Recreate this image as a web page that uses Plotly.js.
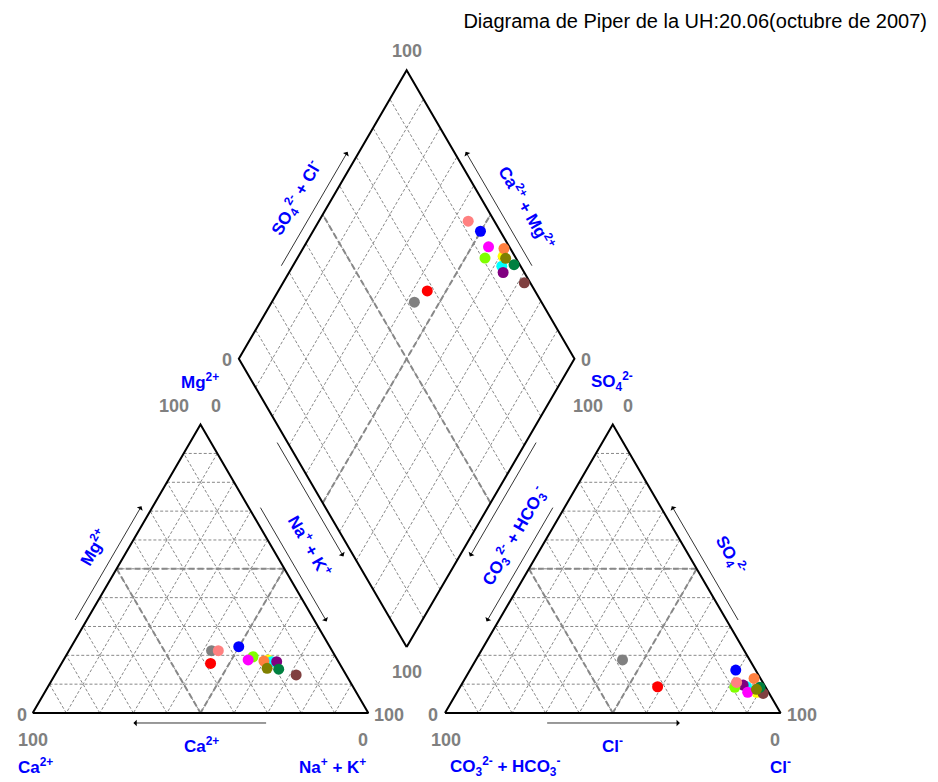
<!DOCTYPE html>
<html><head><meta charset="utf-8">
<script src="https://cdn.plot.ly/plotly-3.0.1.min.js"></script>
<style>html,body{margin:0;padding:0;background:#fff}#chart{width:938px;height:782px}</style>
</head><body><div id="chart"></div>
<script>
// ---------------- data (percent of meq) ----------------
const sampleColors = ['#FF0000','#808080','#FFFF00','#00FFFF','#800080','#80FF00','#FF00FF','#FF8040','#804040','#008040','#808000','#0000FF','#FF8080'];
const caPct   = [38.4,35.9,20.6,19.9,18.4,24.6,26.6,22.1,14.9,19.1,22.4,27.1,33.9];
const mgPct   = [17.2,21.6,18.4,17.8,17.8,19.5,18.4,18.0,13.2,15.2,15.5,23.0,21.6];
const naKPct  = [44.4,42.5,61.0,62.3,63.8,55.9,55.0,59.9,71.9,65.7,62.1,49.9,44.5];
const hco3Pct = [32.1,37.9,3.5,5.6,6.3,9.2,6.2,1.9,1.8,1.7,3.1,5.9,7.8];
const so4Pct  = [9.1,18.4,7.2,9.1,9.7,8.9,7.2,12.0,6.8,8.9,8.2,14.9,10.6];
const clPct   = [58.8,43.7,89.3,85.3,84.0,81.9,86.6,86.1,91.4,89.4,88.7,79.2,81.6];
const gridSteps = [10,20,30,40,50,60,70,80,90];
const titleText = 'Diagrama de Piper de la UH:20.06(octubre de 2007)';

// ---------------- geometry ----------------
const S3 = Math.sqrt(3)/2;
const G = 0.2285;
const LA=[0,0], LB=[1,0], LC=[0.5,S3];
const RA=[1+G,0], RB=[2+G,0], RC=[1.5+G,S3];
const DB=[1+G/2,G*S3], DL=[0.5+G/2,(1+G)*S3], DR=[1.5+G/2,(1+G)*S3], DT=[1+G/2,(2+G)*S3];
const lerp=(P,Q,f)=>[P[0]+(Q[0]-P[0])*f, P[1]+(Q[1]-P[1])*f];

function seg(arrs, P, Q){ arrs.x.push(P[0],Q[0],null); arrs.y.push(P[1],Q[1],null); }

const grid={x:[],y:[]}, thick={x:[],y:[]}, outline={x:[],y:[]};
function triGrid(A,B,C){
  gridSteps.forEach(p=>{ const f=p/100;
    seg(grid, lerp(A,C,f), lerp(B,C,f));
    seg(grid, lerp(B,A,f), lerp(C,A,f));
    seg(grid, lerp(C,B,f), lerp(A,B,f));
  });
  const mAB=lerp(A,B,.5), mBC=lerp(B,C,.5), mCA=lerp(C,A,.5);
  seg(thick,mCA,mBC); seg(thick,mCA,mAB); seg(thick,mBC,mAB);
  outline.x.push(A[0],B[0],C[0],A[0],null); outline.y.push(A[1],B[1],C[1],A[1],null);
}
triGrid(LA,LB,LC); triGrid(RA,RB,RC);
gridSteps.forEach(p=>{ const f=p/100;
  seg(grid, lerp(DB,DL,f), lerp(DR,DT,f));
  seg(grid, lerp(DB,DR,f), lerp(DL,DT,f));
});
seg(thick, lerp(DB,DL,.5), lerp(DR,DT,.5));
seg(thick, lerp(DB,DR,.5), lerp(DL,DT,.5));
outline.x.push(DB[0],DL[0],DT[0],DR[0],DB[0],null); outline.y.push(DB[1],DL[1],DT[1],DR[1],DB[1],null);

// ---------------- point positions ----------------
const cx=[],cy=[],ax=[],ay=[],dx=[],dy=[];
for(let i=0;i<sampleColors.length;i++){
  const ts=caPct[i]+mgPct[i]+naKPct[i];
  const m=mgPct[i]/ts, n=naKPct[i]/ts;
  const ta=hco3Pct[i]+so4Pct[i]+clPct[i];
  const s=so4Pct[i]/ta, c=clPct[i]/ta;
  cx.push(n+m/2); cy.push(m*S3);
  ax.push(1+G+c+s/2); ay.push(s*S3);
  dx.push((n+1+G+c+s)/2); dy.push(S3*(1+G+c+s-n));
}

const MS=11;
const traces=[
  {x:grid.x,y:grid.y,mode:'lines',line:{color:'#888',width:1,dash:'3px,2px'},hoverinfo:'skip'},
  {x:thick.x,y:thick.y,mode:'lines',line:{color:'#888',width:2,dash:'6px,3px'},hoverinfo:'skip'},
  {x:outline.x,y:outline.y,mode:'lines',line:{color:'#000',width:2},hoverinfo:'skip'},
  {x:cx,y:cy,mode:'markers',marker:{color:sampleColors,size:MS,line:{width:0}}},
  {x:ax,y:ay,mode:'markers',marker:{color:sampleColors,size:MS,line:{width:0}}},
  {x:dx,y:dy,mode:'markers',marker:{color:sampleColors,size:MS,line:{width:0}}}
];

// ---------------- arrows ----------------
function arrow(P0,P1,t0,t1,d,nrm){
  const s=lerp(P0,P1,t0), e=lerp(P0,P1,t1);
  return {x:e[0]+nrm[0]*d, y:e[1]+nrm[1]*d, ax:s[0]+nrm[0]*d, ay:s[1]+nrm[1]*d,
    xref:'x',yref:'y',axref:'x',ayref:'y',text:'',showarrow:true,
    arrowhead:1,arrowsize:1.4,arrowwidth:0.8,arrowcolor:'#000',standoff:0,startstandoff:0};
}
const NL=[-S3,0.5], NR=[S3,0.5], ND=[0,-1], NLL=[-S3,-0.5], NLR=[S3,-0.5];
const anns=[
  arrow(LA,LC,.3,.7,.03,NL), arrow(LC,LB,.3,.7,.03,NR), arrow(LB,LA,.3,.7,.03,ND),
  arrow(RC,RA,.3,.7,.03,NL), arrow(RB,RC,.3,.7,.03,NR), arrow(RA,RB,.3,.7,.03,ND),
  arrow(DL,DT,.3,.7,.03,NL), arrow(DR,DT,.3,.7,.03,NR),
  arrow(DL,DB,.27,.67,.027,NLL), arrow(DR,DB,.27,.67,.027,NLR)
];

// ---------------- labels ----------------
const FONT='Arial, "Liberation Sans", sans-serif';
function txt(px,py,t,color,size,angle){
  return {xref:'paper',yref:'paper',x:px/938,y:1-py/782,xanchor:'center',yanchor:'middle',
    text:'<b>'+t+'</b>',showarrow:false,textangle:angle||0,font:{family:FONT,size:size,color:color}};
}
const GR='#808080', BL='#0000FF';
[
  [174,406,'100'],[216,406,'0'],[22,715,'0'],[33,740,'100'],[389,715,'100'],[363,740,'0'],
  [588,406,'100'],[628,406,'0'],[433,715,'0'],[446,740,'100'],[802,715,'100'],[775,740,'0'],
  [407,51,'100'],[227,360,'0'],[586,360,'0'],[407,672,'100']
].forEach(a=>anns.push(txt(a[0],a[1],a[2],GR,18)));
[
  [200,381,'Mg<sup>2+</sup>',0],[612,381,'SO<sub>4</sub><sup>2-</sup>',0],
  [35,766,'Ca<sup>2+</sup>',0],[332,766,'Na<sup>+</sup> + K<sup>+</sup>',0],[201,745,'Ca<sup>2+</sup>',0],
  [505,766,'CO<sub>3</sub><sup>2-</sup> + HCO<sub>3</sub><sup>-</sup>',0],[780,766,'Cl<sup>-</sup>',0],[612,745,'Cl<sup>-</sup>',0],
  [93,547,'Mg<sup>2+</sup>',-60],[310,545,'Na<sup>+</sup> + K<sup>+</sup>',60],
  [296,198,'SO<sub>4</sub><sup>2-</sup> + Cl<sup>-</sup>',-60],[527,207,'Ca<sup>2+</sup> + Mg<sup>2+</sup>',60],
  [514,536,'CO<sub>3</sub><sup>2-</sup> + HCO<sub>3</sub><sup>-</sup>',-60],[731,555,'SO<sub>4</sub><sup>2-</sup>',60]
].forEach(a=>anns.push(txt(a[0],a[1],a[2],BL,17,a[3])));

const layout={
  width:938,height:782,margin:{l:0,r:0,t:0,b:0},
  paper_bgcolor:'#fff',plot_bgcolor:'#fff',showlegend:false,
  title:{text:titleText,x:927/938,xanchor:'right',xref:'paper',y:1-21/782,yanchor:'middle',yref:'paper',
    font:{family:FONT,size:20,color:'#000'}},
  xaxis:{range:[-32.7/335.6,(938-32.7)/335.6],visible:false,fixedrange:true},
  yaxis:{range:[(713-782)/333,713/333],visible:false,fixedrange:true},
  annotations:anns
};
Plotly.newPlot('chart',traces,layout,{staticPlot:true,displayModeBar:false});
</script></body></html>
